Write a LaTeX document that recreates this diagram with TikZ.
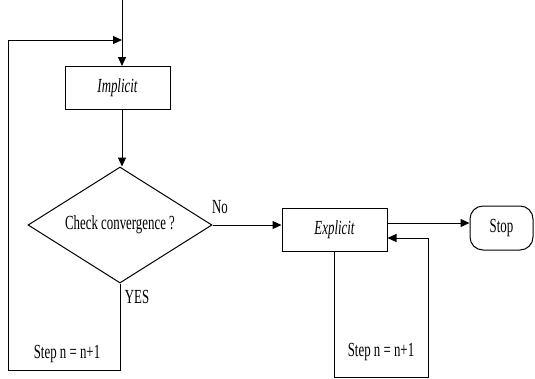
\documentclass[tikz,border=0pt]{standalone}
\usepackage{fontspec}
\setmainfont{Liberation Serif}
\usepackage{graphicx}
\usetikzlibrary{shapes.geometric,arrows.meta}
\newcommand\talltxt[1]{\scalebox{1.03}[1.6]{#1}}
\begin{document}
\begin{tikzpicture}[x=1pt,y=-1pt,line width=1pt,
  box/.style={draw,rectangle,inner sep=0pt,minimum width=105pt,minimum height=43pt,font=\fontsize{12.5}{14}\selectfont\itshape},
  dec/.style={draw,diamond,aspect=1.59,minimum width=184pt,minimum height=116pt,inner sep=0pt,font=\fontsize{12.5}{14}\selectfont},
  term/.style={draw,rectangle,rounded corners=13pt,minimum width=63pt,minimum height=44pt,inner sep=0pt,font=\fontsize{12.5}{14}\selectfont},
  lbl/.style={inner sep=0pt,font=\fontsize{12.5}{14}\selectfont},
  arr/.style={-{Triangle[length=9pt,width=8pt]}}]
\useasboundingbox (0,0) rectangle (535,378);
\node[box] (impl) at (117.5,88) {\talltxt{Implicit}};
\node[dec] (chk) at (120,225) {\talltxt{Check convergence ?}};
\node[box] (expl) at (334.5,230) {\talltxt{Explicit}};
\node[term] (stop) at (501.5,228) {\talltxt{Stop}};
\node[lbl] (no) at (220,207) {\talltxt{No}};
\node[lbl] (yes) at (137,297) {\talltxt{YES}};
\node[lbl] (s1) at (67,354) {\talltxt{Step n = n+1}};
\node[lbl] (s2) at (381,352) {\talltxt{Step n = n+1}};
\coordinate (top) at (122,0);
\coordinate (j) at (122,40);
\coordinate (tl) at (8,40);
\coordinate (bl) at (8,370);
\coordinate (e1) at (387,223);
\coordinate (r1) at (428,238);
\coordinate (r2) at (428,377.5);
\coordinate (r3) at (334.5,377.5);
\draw (top) -- (j);
\draw[arr] (j) -- (impl.north -| j);
\draw[arr] (impl.south -| j) -- (j |- chk.north);
\draw[arr] (chk.south) -- (chk.south |- bl) -- (bl) -- (tl) -- (j);
\draw[arr] (chk.east) -- (expl.west |- chk.east);
\draw[arr] (e1) -- (stop.west |- e1);
\draw[arr] (expl.south) -- (r3) -- (r2) -- (r1) -- (expl.east |- r1);
\end{tikzpicture}
\end{document}
